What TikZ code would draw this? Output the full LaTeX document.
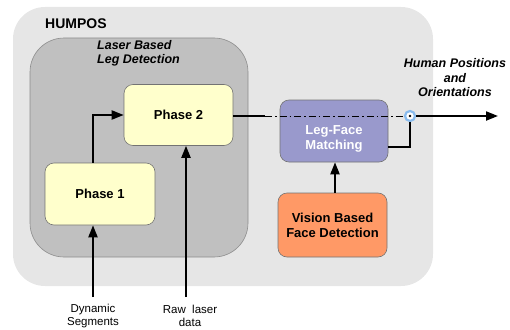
\documentclass[tikz,border=0pt]{standalone}
\usepackage{fontspec}
\setmainfont{Liberation Sans}
\usetikzlibrary{arrows.meta}
\definecolor{outerbg}{HTML}{E6E6E6}
\definecolor{innerbg}{HTML}{C0C0C0}
\definecolor{phasefill}{HTML}{FFFFCC}
\definecolor{matchfill}{HTML}{9999CC}
\definecolor{visionfill}{HTML}{FF9966}
\definecolor{ringblue}{HTML}{88BBEE}
\tikzset{
  blk/.style={draw=black!55, line width=0.6pt, rounded corners=9pt, inner sep=0pt, align=center, font=\bfseries\fontsize{13}{15}\selectfont},
  conn/.style={line width=2pt, -{Triangle[length=12pt,width=9pt]}},
  plain/.style={line width=2pt},
  lbl/.style={align=center, font=\fontsize{11.5}{13.5}\selectfont, inner sep=0pt},
  ttl/.style={align=center, font=\bfseries\itshape\fontsize{12.5}{14.5}\selectfont, inner sep=0pt}
}
\begin{document}
\begin{tikzpicture}[x=1pt,y=-1pt]
\useasboundingbox (0,0) rectangle (510,329);
% outer HUMPOS box
\fill[outerbg, rounded corners=32pt] (13,7) rectangle (433,286);
\node[anchor=west, font=\bfseries\fontsize{14}{16}\selectfont, inner sep=0pt] (humpos) at (45,24) {HUMPOS};
% inner laser box
\draw[fill=innerbg, draw=black!45, line width=0.6pt, rounded corners=34pt] (30,38) rectangle (248,257);
\node[ttl, anchor=north west, align=left] (laser) at (97,40) {Laser Based\\Leg Detection};
% blocks
\node[blk, fill=phasefill, minimum width=109pt, minimum height=61pt] (p2) at (178.5,115) {Phase 2};
\node[blk, fill=phasefill, minimum width=110pt, minimum height=62pt] (p1) at (100,194) {Phase 1};
\node[blk, fill=matchfill, minimum width=108pt, minimum height=62pt] (lfm) at (334,131) {};
\node[blk, draw=none, fill=none, text=white] (lfmtext) at (334,138.5) {Leg-Face\\Matching};
\node[blk, fill=visionfill, minimum width=109pt, minimum height=64pt] (vis) at (332.5,225) {Vision Based\\Face Detection};
% merge ring
\node[circle, draw=ringblue, line width=2.2pt, minimum size=10pt, inner sep=0pt, fill=white] (ring) at (410,116) {};
\fill (ring.center) circle (1.3pt);
% out arrow
\coordinate (outend) at (498,116);
\draw[conn] (ring.east) -- (outend);
\node[ttl] (hpo) at (455,78) {Human Positions\\and\\Orientations};
% phase 2 to ring
\coordinate (dashstart) at (265,116);
\draw[plain] (p2.east |- 0,116) -- (dashstart);
\draw[line width=1pt, dash pattern=on 7pt off 3pt on 1.5pt off 3pt] (dashstart) -- (ring.west);
% phase1 to phase2
\coordinate (bend1) at (93,115);
\draw[conn] (p1.north -| bend1) -- (bend1) -- (p2.west);
% lfm to ring
\coordinate (bend2) at (410,147);
\draw[plain] (lfm.east |- bend2) -- (bend2) -- (ring.south);
% vision to lfm
\draw[conn] (vis.north -| 335,0) -- (lfm.south -| 335,0);
% inputs
\coordinate (dyn) at (93,297);
\coordinate (raw) at (186,297);
\draw[conn] (dyn) -- (p1.south -| dyn);
\draw[conn] (raw) -- (p2.south -| raw);
\node[lbl] (dynl) at (93,316) {Dynamic\\Segments};
\node[lbl] (rawl) at (190,316) {Raw \ laser\\data};
\end{tikzpicture}
\end{document}
